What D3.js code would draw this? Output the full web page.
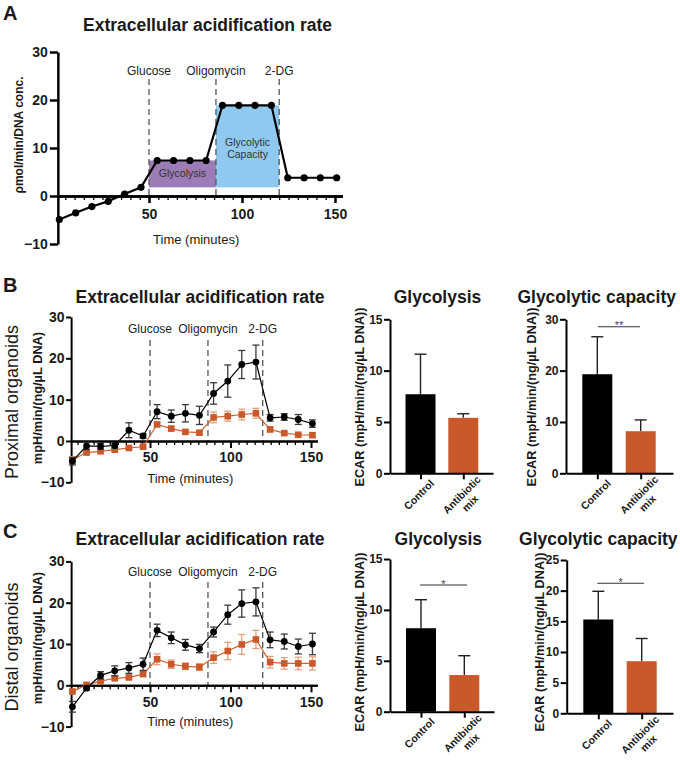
<!DOCTYPE html>
<html><head><meta charset="utf-8">
<script src="https://cdn.jsdelivr.net/npm/d3@7"></script>
<style>body{margin:0;background:#fff} svg{font-family:Arial,"Liberation Sans",sans-serif}</style>
</head><body><svg id="c" width="680" height="762"></svg>
<script>
// ---------- DATA ----------
const times = [1.8, 10.6, 19.3, 28.1, 36.9, 45.7, 54.4, 63.2, 72.0, 80.7, 89.5, 98.3, 107.0, 115.8, 124.6, 133.4, 142.1, 150.9];
const injections = [50, 86, 120];
const injectionLabels = ["Glucose", "Oligomycin", "2-DG"];
const lineYTicks = [-10, 0, 10, 20, 30];
const lineXTicks = [50, 100, 150];

// Panel A (schematic)
const aValues = [-4.9, -3.5, -2.2, -1.1, 0.4, 1.8, 7.4, 7.4, 7.4, 7.4, 18.9, 18.9, 18.9, 18.9, 3.8, 3.8, 3.8, 3.8];
const aRegions = [
  {label: ["Glycolysis"], t0: 50, t1: 86, v0: 1.8, v1: 7.4},
  {label: ["Glycolytic", "Capacity"], t0: 86, t1: 120, v0: 1.8, v1: 18.9}
];

// Panel B (proximal organoids)
const bControl = [-4.9, -1.2, -1.3, -1.1, 2.6, 1.2, 7.1, 6.0, 6.7, 6.2, 11.5, 14.5, 18.5, 19.1, 5.6, 5.8, 5.2, 4.2];
const bControlErr = [0.9, 0.9, 0.7, 0.6, 1.8, 0.5, 1.7, 1.5, 2.1, 2.2, 2.6, 3.9, 3.4, 4.1, 0.8, 0.8, 1.2, 0.9];
const bAntibiotic = [-4.6, -2.8, -2.5, -2.1, -1.7, -1.4, 4.0, 3.0, 2.2, 2.0, 5.7, 6.0, 6.4, 6.7, 2.8, 1.9, 1.5, 1.4];
const bAntibioticErr = [0.8, 0.3, 0.3, 0.3, 0.3, 0.3, 0.4, 0.5, 0.4, 0.4, 1.3, 1.2, 1.3, 1.2, 0.6, 0.3, 0.3, 0.3];

// Panel C (distal organoids)
const cControl = [-5.2, -0.7, 2.4, 3.5, 4.2, 5.1, 13.3, 11.5, 9.8, 8.9, 12.9, 17.1, 19.8, 20.2, 11.0, 10.6, 9.4, 10.0];
const cControlErr = [1.3, 0.5, 0.9, 1.2, 1.3, 1.5, 1.5, 1.4, 1.3, 1.0, 1.2, 2.3, 3.3, 3.4, 1.9, 1.8, 1.8, 2.6];
const cAntibiotic = [-1.5, 0.1, 1.0, 1.7, 1.9, 2.7, 6.3, 5.1, 4.6, 4.4, 6.7, 8.3, 9.9, 11.1, 5.6, 5.3, 5.3, 5.3];
const cAntibioticErr = [0.3, 0.3, 0.3, 0.4, 0.4, 0.5, 1.3, 1.0, 0.8, 0.8, 1.4, 2.1, 2.4, 2.2, 1.4, 1.4, 1.5, 1.6];

// Bar charts
const barCategories = ["Control", "Antibiotic mix"];
const barLabelLines = [["Control"], ["Antibiotic", "mix"]];
const bGlyMean = [7.7, 5.4], bGlyErr = [3.9, 0.4];
const bCapMean = [19.3, 8.2], bCapErr = [7.3, 2.2];
const cGlyMean = [8.2, 3.6], cGlyErr = [2.8, 1.9];
const cCapMean = [15.3, 8.5], cCapErr = [4.6, 3.7];

// ---------- STYLE ----------
const BLACK = "#000";
const ORANGE = "#c9592b";
const ORANGE_LINE = "#d0622f";
const ORANGE_ERR = "#e3a07f";
const PURPLE = "#9c7cb6";
const BLUE = "#8fc9ef";
const TXT = "#1a1a1a";

const svg = d3.select("#c");

function styleAxis(g, w, fs) {
  g.select(".domain").attr("stroke", BLACK).attr("stroke-width", w);
  g.selectAll(".tick line").attr("stroke", BLACK).attr("stroke-width", w);
  g.selectAll(".tick text").attr("fill", TXT).attr("font-weight", "bold").attr("font-size", fs).attr("font-family", "Arial, Liberation Sans, sans-serif");
}

function text(x, y, str, o) {
  o = o || {};
  const t = svg.append("text").attr("x", x).attr("y", y).text(str)
    .attr("font-size", o.fs || 12).attr("font-weight", o.bold ? "bold" : "normal")
    .attr("text-anchor", o.anchor || "middle").attr("fill", o.fill || TXT);
  if (o.rotate) t.attr("transform", `rotate(${o.rotate},${x},${y})`);
  return t;
}

function linePanel(o) {
  const x = d3.scaleLinear().domain([0, 150]).range(o.xr);
  const y = d3.scaleLinear().domain([-10, 30]).range(o.yr);
  const g = svg.append("g");
  const xa = d3.scaleLinear().domain([1, 154]).range([x(1), x(154)]);

  // shaded regions
  (o.regions || []).forEach(r => {
    g.append("rect").attr("x", x(r.t0)).attr("y", y(r.v1)).attr("width", x(r.t1) - x(r.t0))
      .attr("height", y(r.v0) - y(r.v1)).attr("fill", r.label.length > 1 ? BLUE : PURPLE);
  });
  (o.regions || []).forEach(r => {
    const cx = (x(r.t0) + x(r.t1)) / 2;
    const cy = r.label.length > 1 ? y(r.v1) + 41 : (y(r.v0) + y(r.v1)) / 2 + 3;
    r.label.forEach((l, i) => {
      g.append("text").attr("x", cx).attr("y", cy + i * 12).attr("text-anchor", "middle")
        .attr("font-size", 10.5).attr("fill", "#333").text(l);
    });
  });

  // injection lines and labels
  injections.forEach((t, i) => {
    g.append("line").attr("x1", x(t)).attr("x2", x(t)).attr("y1", o.dashTop).attr("y2", y(0))
      .attr("stroke", "#555").attr("stroke-width", 1.3).attr("stroke-dasharray", "6,4");
    g.append("text").attr("x", x(t)).attr("y", o.injY).attr("text-anchor", "middle")
      .attr("font-size", 12).attr("fill", "#222").text(injectionLabels[i]);
  });

  // axes
  const ya = g.append("g").attr("transform", `translate(${x(1)},0)`)
    .call(d3.axisLeft(y).tickValues(lineYTicks).tickSize(o.ytick).tickSizeOuter(0).tickPadding(o.ypad));
  styleAxis(ya, o.aw, o.tfs);
  const xm = g.append("g").attr("transform", `translate(0,${y(0)})`)
    .call(d3.axisBottom(xa).tickValues(d3.range(5, 155, 5).filter(v => v % 50 !== 0)).tickSize(4).tickFormat("").tickSizeOuter(0));
  styleAxis(xm, 1.3, o.tfs);
  xm.select(".domain").attr("stroke-width", o.aw);
  const xM = g.append("g").attr("transform", `translate(0,${y(0)})`)
    .call(d3.axisBottom(xa).tickValues(lineXTicks).tickSize(7).tickSizeOuter(0).tickPadding(o.xpad));
  styleAxis(xM, o.aw, o.tfs);

  // series
  o.series.forEach(s => {
    if (s.err) {
      const eg = g.append("g").attr("stroke", s.errColor).attr("stroke-width", 1.3).attr("fill", "none");
      times.forEach((t, i) => {
        const lo = y(s.values[i] - s.err[i]), hi = y(s.values[i] + s.err[i]);
        eg.append("line").attr("x1", x(t)).attr("x2", x(t)).attr("y1", lo).attr("y2", hi);
        eg.append("line").attr("x1", x(t) - 3.5).attr("x2", x(t) + 3.5).attr("y1", lo).attr("y2", lo);
        eg.append("line").attr("x1", x(t) - 3.5).attr("x2", x(t) + 3.5).attr("y1", hi).attr("y2", hi);
      });
    }
    g.append("path").datum(s.values)
      .attr("d", d3.line().x((d, i) => x(times[i])).y(d => y(d)))
      .attr("fill", "none").attr("stroke", s.lineColor).attr("stroke-width", s.lw);
    if (s.shape === "square") {
      g.append("g").selectAll("rect").data(s.values).join("rect")
        .attr("x", (d, i) => x(times[i]) - s.size).attr("y", d => y(d) - s.size)
        .attr("width", s.size * 2).attr("height", s.size * 2).attr("fill", s.color);
    } else {
      g.append("g").selectAll("circle").data(s.values).join("circle")
        .attr("cx", (d, i) => x(times[i])).attr("cy", d => y(d)).attr("r", s.size).attr("fill", s.color);
    }
  });

  // titles / labels
  text(o.titleX, o.titleY, "Extracellular acidification rate", {fs: 17.5, bold: true});
  text((x(1) + x(154)) / 2 - 4, o.timeY, "Time (minutes)", {fs: 13});
  text(o.ylabX, o.ylabY, o.ylab, {fs: o.ylfs, bold: true, rotate: -90});
}

function barPanel(o) {
  const y = d3.scaleLinear().domain([0, o.max]).range(o.yr);
  const x = d3.scalePoint().domain(barCategories).range(o.centers);
  const g = svg.append("g");
  const bw = 30;
  // error bars (upper)
  barCategories.forEach((c, i) => {
    const top = y(o.mean[i] + o.err[i]);
    g.append("line").attr("x1", x(c)).attr("x2", x(c)).attr("y1", y(o.mean[i])).attr("y2", top)
      .attr("stroke", "#222").attr("stroke-width", 1.4);
    g.append("line").attr("x1", x(c) - 6).attr("x2", x(c) + 6).attr("y1", top).attr("y2", top)
      .attr("stroke", "#222").attr("stroke-width", 1.4);
  });
  g.append("g").selectAll("rect").data(o.mean).join("rect")
    .attr("x", (d, i) => x(barCategories[i]) - bw / 2).attr("y", d => y(d))
    .attr("width", bw).attr("height", d => y(0) - y(d))
    .attr("fill", (d, i) => i === 0 ? BLACK : ORANGE);

  const ya = g.append("g").attr("transform", `translate(${o.axisX},0)`)
    .call(d3.axisLeft(y).tickValues(o.ticks).tickSize(6).tickSizeOuter(0).tickPadding(1.5));
  styleAxis(ya, 2, 12);
  const xs = d3.scaleLinear().domain([0, 1]).range([o.axisX, o.axisEnd]);
  const xa = g.append("g").attr("transform", `translate(0,${y(0)})`)
    .call(d3.axisBottom(xs).tickValues([(x(barCategories[0]) - o.axisX) / (o.axisEnd - o.axisX), (x(barCategories[1]) - o.axisX) / (o.axisEnd - o.axisX)])
      .tickSize(6).tickSizeOuter(0).tickFormat(""));
  styleAxis(xa, 2, 12);

  // category labels
  barCategories.forEach((c, i) => {
    const t = g.append("text").attr("transform", `translate(${x(c) + 1},${y(0) + 24}) rotate(-45)`)
      .attr("text-anchor", "middle").attr("font-size", 10.5).attr("font-weight", "bold").attr("fill", TXT);
    barLabelLines[i].forEach((l, j) => t.append("tspan").attr("x", 0).attr("dy", j === 0 ? 0 : 12).text(l));
  });

  // significance
  if (o.sig) {
    g.append("line").attr("x1", o.sig.x0).attr("x2", o.sig.x1).attr("y1", o.sig.y).attr("y2", o.sig.y)
      .attr("stroke", "#333").attr("stroke-width", 1.1);
    g.append("text").attr("x", (o.sig.x0 + o.sig.x1) / 2).attr("y", o.sig.y + 2.5).attr("text-anchor", "middle")
      .attr("font-size", 11).attr("fill", "#444").text(o.sig.label);
  }

  text(o.titleX, o.titleY, o.title, {fs: 17.5, bold: true});
  text(o.ylabX, o.ylabY, "ECAR (mpH/min/(ng/µL DNA))", {fs: 12.7, bold: true, rotate: -90});
}

// ---------- PANEL A ----------
text(3, 20, "A", {fs: 20, bold: true, anchor: "start"});
linePanel({
  xr: [56, 335], yr: [244, 52], aw: 2.5, ytick: 8, ypad: 2, xpad: 6, tfs: 14,
  dashTop: 79, injY: 75, titleX: 207.5, titleY: 31, timeY: 244,
  ylab: "ρmol/min/DNA conc.", ylabX: 23, ylabY: 135, ylfs: 12,
  regions: aRegions,
  series: [{values: aValues, color: BLACK, lineColor: BLACK, lw: 2.2, size: 3.6, shape: "circle"}]
});

// ---------- PANEL B ----------
text(3, 292, "B", {fs: 20, bold: true, anchor: "start"});
text(17.5, 402, "Proximal organoids", {fs: 18, rotate: -90});
linePanel({
  xr: [69.5, 311], yr: [482.3, 317], aw: 2, ytick: 5, ypad: 1.5, xpad: 4, tfs: 14,
  dashTop: 340, injY: 333, titleX: 200, titleY: 303, timeY: 483,
  ylab: "mpH/min/(ng/µL DNA)", ylabX: 42, ylabY: 398, ylfs: 12.8,
  series: [
    {values: bAntibiotic, err: bAntibioticErr, errColor: ORANGE_ERR, color: ORANGE, lineColor: ORANGE_LINE, lw: 1.2, size: 3.3, shape: "square"},
    {values: bControl, err: bControlErr, errColor: "#3a3a3a", color: BLACK, lineColor: BLACK, lw: 1.2, size: 3.4, shape: "circle"}
  ]
});
barPanel({max: 15, yr: [473.3, 319.3], ticks: [0, 5, 10, 15], axisX: 390, axisEnd: 493, centers: [420.5, 463.3],
  mean: bGlyMean, err: bGlyErr, title: "Glycolysis", titleX: 437.5, titleY: 303, ylabX: 364, ylabY: 397});
barPanel({max: 30, yr: [473.3, 319.3], ticks: [0, 10, 20, 30], axisX: 566, axisEnd: 673, centers: [597.3, 640.7],
  mean: bCapMean, err: bCapErr, title: "Glycolytic capacity", titleX: 596.7, titleY: 303, ylabX: 536, ylabY: 397,
  sig: {x0: 598, x1: 640, y: 326.7, label: "**"}});

// ---------- PANEL C ----------
text(3, 538, "C", {fs: 20, bold: true, anchor: "start"});
text(17.5, 647, "Distal organoids", {fs: 18, rotate: -90});
linePanel({
  xr: [69.5, 311], yr: [726.6, 561.4], aw: 2, ytick: 5, ypad: 1.5, xpad: 4.5, tfs: 14,
  dashTop: 582, injY: 576, titleX: 200, titleY: 545, timeY: 726,
  ylab: "mpH/min/(ng/µL DNA)", ylabX: 42, ylabY: 638, ylfs: 12.8,
  series: [
    {values: cAntibiotic, err: cAntibioticErr, errColor: ORANGE_ERR, color: ORANGE, lineColor: ORANGE_LINE, lw: 1.2, size: 3.3, shape: "square"},
    {values: cControl, err: cControlErr, errColor: "#3a3a3a", color: BLACK, lineColor: BLACK, lw: 1.2, size: 3.4, shape: "circle"}
  ]
});
barPanel({max: 15, yr: [711.7, 559], ticks: [0, 5, 10, 15], axisX: 390, axisEnd: 494, centers: [421, 464.3],
  mean: cGlyMean, err: cGlyErr, title: "Glycolysis", titleX: 438.3, titleY: 545, ylabX: 364, ylabY: 642,
  sig: {x0: 420, x1: 467, y: 585, label: "*"}});
barPanel({max: 25, yr: [713.3, 560], ticks: [0, 5, 10, 15, 20, 25], axisX: 566.7, axisEnd: 673, centers: [598.3, 641.7],
  mean: cCapMean, err: cCapErr, title: "Glycolytic capacity", titleX: 598.3, titleY: 545, ylabX: 544, ylabY: 642,
  sig: {x0: 597.3, x1: 644, y: 583.3, label: "*"}});
</script></body></html>
